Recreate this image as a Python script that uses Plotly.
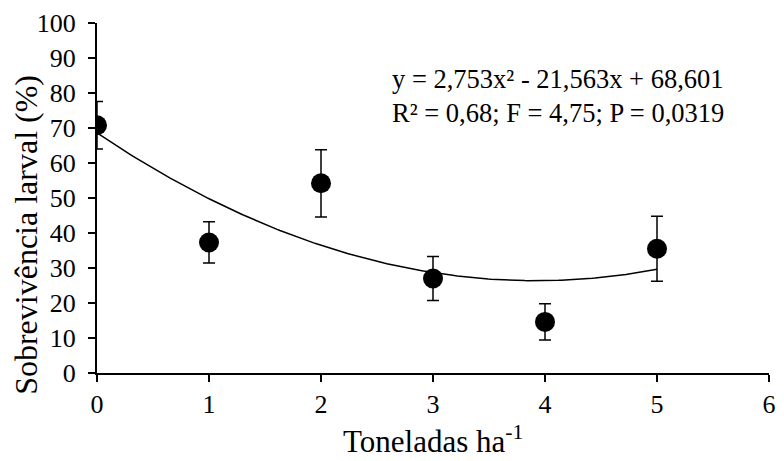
import numpy as np
import plotly.graph_objects as go

doses = [0, 1, 2, 3, 4, 5]
survival = [70.8, 37.3, 54.2, 27.0, 14.6, 35.5]
error = [6.8, 5.9, 9.6, 6.3, 5.2, 9.3]
coef = [2.753, -21.563, 68.601]  # fitted equation shown on chart
x_ticks = [0, 1, 2, 3, 4, 5, 6]
y_ticks = [0, 10, 20, 30, 40, 50, 60, 70, 80, 90, 100]

xf = np.linspace(min(doses), max(doses), 200)
yf = np.polyval(coef, xf)

FONT = "Liberation Serif"

fig = go.Figure()
fig.add_trace(go.Scatter(x=xf, y=yf, mode="lines",
                         line=dict(color="black", width=1.5),
                         hoverinfo="skip", showlegend=False))
fig.add_trace(go.Scatter(x=doses, y=survival, mode="markers",
                         marker=dict(color="black", size=20),
                         error_y=dict(type="data", array=error, visible=True,
                                      color="black", thickness=1.5, width=6),
                         showlegend=False))

fig.update_layout(
    width=784, height=461,
    margin=dict(l=97, r=8, t=23, b=88),
    paper_bgcolor="white", plot_bgcolor="white",
    font=dict(family=FONT, size=26, color="black"),
    xaxis=dict(range=[0, 6], tickvals=x_ticks, showgrid=False, zeroline=False,
               showline=True, linecolor="black", linewidth=2,
               ticks="outside", ticklen=7, tickwidth=2, tickcolor="black",
               tickfont=dict(family=FONT, size=26, color="black")),
    yaxis=dict(range=[0, 100], tickvals=y_ticks, showgrid=False, zeroline=False,
               showline=True, linecolor="black", linewidth=2,
               ticks="outside", ticklen=7, tickwidth=2, tickcolor="black",
               ticklabelstandoff=7,
               tickfont=dict(family=FONT, size=26, color="black")),
    annotations=[
        dict(text="y = 2,753x² - 21,563x + 68,601<br>R² = 0,68; F = 4,75; P = 0,0319",
             xref="paper", yref="paper", x=0.436, y=0.79, xanchor="left", yanchor="middle",
             align="left", showarrow=False, font=dict(family=FONT, size=26.5)),
        dict(text="Toneladas ha<sup>-1</sup>", xref="paper", yref="paper",
             x=0.5, y=-0.19, xanchor="center", yanchor="middle", showarrow=False,
             font=dict(family=FONT, size=31)),
        dict(text="Sobrevivência larval (%)", xref="paper", yref="paper",
             x=-0.106, y=0.394, xanchor="center", yanchor="middle", showarrow=False,
             textangle=-90, font=dict(family=FONT, size=32)),
    ],
)

fig.write_html("out.html", config={"displayModeBar": False},
               post_script="document.body.style.margin='0';")
